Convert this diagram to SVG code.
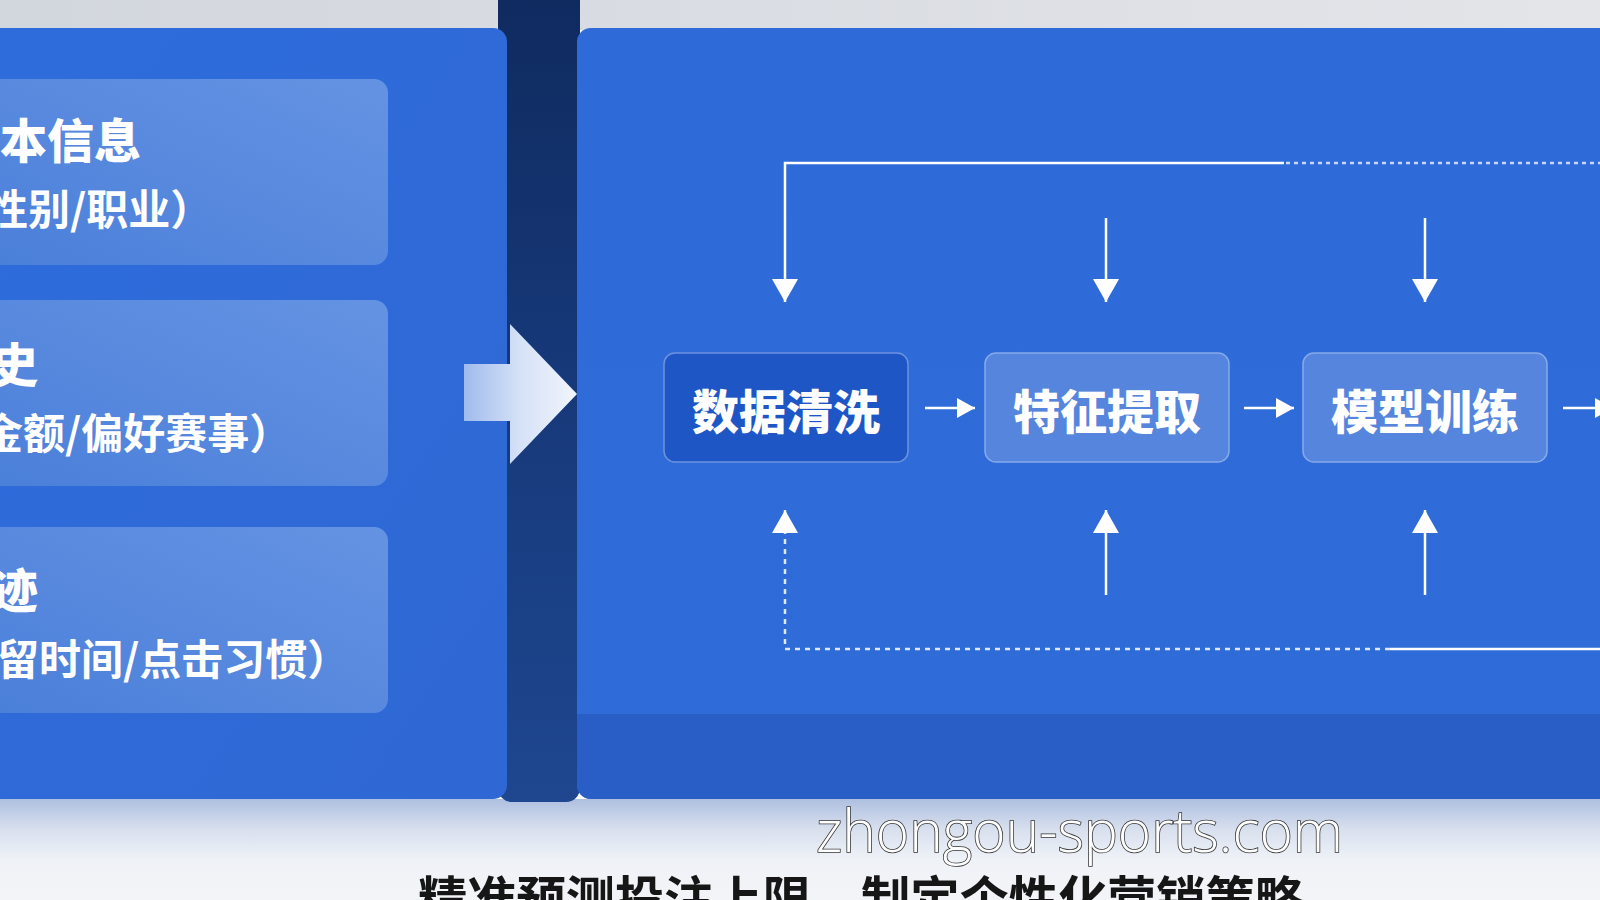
<svg xmlns="http://www.w3.org/2000/svg" width="1600" height="900" viewBox="0 0 1600 900">
  <defs>
    <style>
      .cjk { font-family: "Noto Sans CJK SC", "Noto Sans", sans-serif; }
      .title { fill: #ffffff; font-weight: 900; font-size: 47px; }
      .sub { fill: #ffffff; font-weight: 700; font-size: 42px; }
      .nodeText { fill: #ffffff; font-weight: 900; font-size: 47px; text-anchor: middle; }
      .card { fill: url(#cardGrad); }
      .nodeLight { fill: #5585dc; stroke: #86a9ea; stroke-width: 1.5; }
      .nodeDark { fill: #1f56c6; stroke: #6d92de; stroke-width: 1.5; }
      .line { fill: none; stroke: #ffffff; stroke-width: 2.5; }
      .dash { fill: none; stroke: #dfe8fb; stroke-width: 2.5; stroke-dasharray: 5 5; }
      .dot { fill: none; stroke: #c7d7f5; stroke-width: 2.5; stroke-dasharray: 4 4; }
    </style>
    <linearGradient id="grayTop" x1="0" y1="0" x2="1" y2="0">
      <stop offset="0" stop-color="#d2d6dd"/>
      <stop offset="1" stop-color="#e3e5e9"/>
    </linearGradient>
    <linearGradient id="bottomGrad" x1="0" y1="0" x2="0" y2="1">
      <stop offset="0" stop-color="#aebfe0"/>
      <stop offset="0.3" stop-color="#d8e0ee"/>
      <stop offset="0.6" stop-color="#eff2f7"/>
      <stop offset="1" stop-color="#f3f4f7"/>
    </linearGradient>
    <linearGradient id="leftGrad" x1="0" y1="0" x2="1" y2="1">
      <stop offset="0" stop-color="#2e6cdc"/>
      <stop offset="1" stop-color="#2f68d4"/>
    </linearGradient>
    <linearGradient id="bandGrad" x1="0" y1="0" x2="0" y2="1">
      <stop offset="0" stop-color="#0f2a5e"/>
      <stop offset="0.5" stop-color="#17397a"/>
      <stop offset="1" stop-color="#1e4790"/>
    </linearGradient>
    <linearGradient id="rightGrad" x1="0" y1="0" x2="0" y2="1">
      <stop offset="0" stop-color="#2e6bd9"/>
      <stop offset="1" stop-color="#2f6cd8"/>
    </linearGradient>
    <linearGradient id="cardGrad" x1="0" y1="1" x2="1" y2="0">
      <stop offset="0" stop-color="#4a7fd9"/>
      <stop offset="1" stop-color="#6593e3"/>
    </linearGradient>
    <linearGradient id="bigArrowGrad" x1="0" y1="0" x2="1" y2="0">
      <stop offset="0" stop-color="#9fbbec"/>
      <stop offset="0.5" stop-color="#d6e2f7"/>
      <stop offset="1" stop-color="#f1f5fc"/>
    </linearGradient>
    <clipPath id="rightClip">
      <rect x="577" y="28" width="1060" height="771" rx="14"/>
    </clipPath>
    <marker id="headV" markerUnits="userSpaceOnUse" markerWidth="24" markerHeight="26" refX="23" refY="13" orient="auto">
      <path d="M0,0 L23,13 L0,26 Z" fill="#ffffff"/>
    </marker>
    <marker id="headH" markerUnits="userSpaceOnUse" markerWidth="19" markerHeight="20" refX="18" refY="10" orient="auto">
      <path d="M0,0 L18,10 L0,20 Z" fill="#ffffff"/>
    </marker>
  </defs>

  <!-- background -->
  <g id="background">
    <rect x="0" y="0" width="1600" height="30" fill="url(#grayTop)"/>
    <rect x="0" y="799" width="1600" height="101" fill="url(#bottomGrad)"/>
    <rect x="498" y="-20" width="82" height="822" rx="14" fill="url(#bandGrad)"/>
    <rect x="-30" y="28" width="537" height="771" rx="14" fill="url(#leftGrad)"/>
    <g clip-path="url(#rightClip)">
      <rect x="577" y="28" width="1060" height="771" fill="url(#rightGrad)"/>
      <rect x="577" y="714" width="1060" height="85" fill="#295ec6"/>
    </g>
    <polygon points="464,364 510,364 510,324 577,394 510,464 510,421 464,421" fill="url(#bigArrowGrad)"/>
  </g>

  <!-- left cards -->
  <g id="card-basic">
    <rect class="card" x="-30" y="79" width="418" height="186" rx="14"/>
    <text class="cjk title" x="0" y="158">本信息</text>
    <text class="cjk sub" x="-14" y="225">性别/职业）</text>
  </g>
  <g id="card-history">
    <rect class="card" x="-30" y="300" width="418" height="186" rx="14"/>
    <text class="cjk title" x="-9" y="382">史</text>
    <text class="cjk sub" x="-19" y="449">金额/偏好赛事）</text>
  </g>
  <g id="card-track">
    <rect class="card" x="-30" y="527" width="418" height="186" rx="14"/>
    <text class="cjk title" x="-9" y="608">迹</text>
    <text class="cjk sub" x="-3" y="675" font-size="43">留时间/点击习惯）</text>
  </g>

  <!-- process nodes -->
  <g id="node-clean">
    <rect class="nodeDark" x="664" y="353" width="244" height="109" rx="11"/>
    <text class="cjk nodeText" x="786" y="429">数据清洗</text>
  </g>
  <g id="node-feature">
    <rect class="nodeLight" x="985" y="353" width="244" height="109" rx="11"/>
    <text class="cjk nodeText" x="1107" y="429">特征提取</text>
  </g>
  <g id="node-train">
    <rect class="nodeLight" x="1303" y="353" width="244" height="109" rx="11"/>
    <text class="cjk nodeText" x="1425" y="429">模型训练</text>
  </g>

  <!-- connectors -->
  <g id="connectors">
    <path class="line" d="M1284,163 H785 V302" marker-end="url(#headV)"/>
    <path class="dot" d="M1286,163 H1600"/>
    <path class="line" d="M1106,218 V302" marker-end="url(#headV)"/>
    <path class="line" d="M1425,218 V302" marker-end="url(#headV)"/>
    <path class="line" d="M1106,595 V510" marker-end="url(#headV)"/>
    <path class="line" d="M1425,595 V510" marker-end="url(#headV)"/>
    <path class="dash" d="M1390,649 H785 V510" marker-end="url(#headV)"/>
    <path class="line" d="M1390,649 H1600"/>
    <path class="line" d="M925,408 H975" marker-end="url(#headH)"/>
    <path class="line" d="M1244,408 H1294" marker-end="url(#headH)"/>
    <path class="line" d="M1563,408 H1613" marker-end="url(#headH)"/>
  </g>

  <!-- footer texts -->
  <g id="footer">
    <text x="816" y="852" font-family="'Open Sans', 'DejaVu Sans', sans-serif" font-weight="300" font-size="58" fill="#ffffff" stroke="#333333" stroke-width="1.6" paint-order="stroke" textLength="527" lengthAdjust="spacingAndGlyphs">zhongou-sports.com</text>
    <text class="cjk" x="418" y="917" font-size="49" font-weight="700" fill="#161616" textLength="886" lengthAdjust="spacingAndGlyphs">精准预测投注上限，制定个性化营销策略</text>
  </g>
</svg>
